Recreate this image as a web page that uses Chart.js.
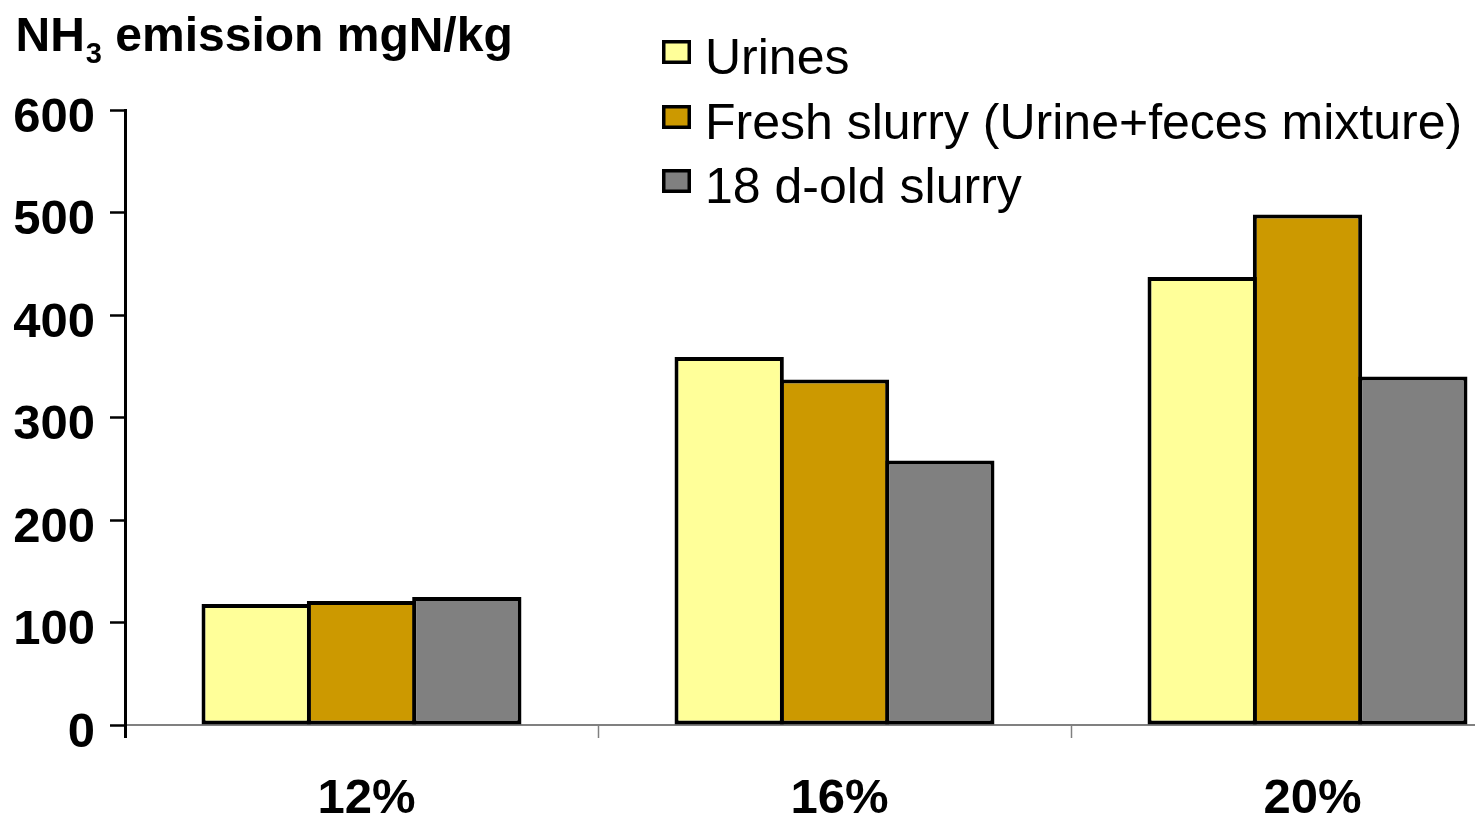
<!DOCTYPE html>
<html>
<head>
<meta charset="utf-8">
<style>
  html, body { margin: 0; padding: 0; background: #ffffff; overflow: hidden; width: 1475px; height: 813px; }
  canvas { display: block; }
</style>
<script src="https://cdn.jsdelivr.net/npm/chart.js@4.4.1/dist/chart.umd.min.js"></script>
</head>
<body>
<canvas id="chart" width="1544" height="813"></canvas>
<script>
// Crude protein levels of the diet (categories)
const categories = ['12%', '16%', '20%'];

// NH3 emission, mgN/kg
const urines = [118, 359, 437];
const freshSlurry = [121, 337, 498];
const oldSlurry = [125, 258, 340];

const seriesNames = ['Urines', 'Fresh slurry (Urine+feces mixture)', '18 d-old slurry'];
const seriesColors = ['#FFFF99', '#CC9900', '#808080'];

// Value axis
const yMin = 0;
const yMax = 600;
const yStep = 100;

const FONT = "'Liberation Sans', Arial, Helvetica, sans-serif";

// Axis title with subscript, drawn on top of the chart
const axisTitlePlugin = {
  id: 'axisTitle',
  afterDraw(chart) {
    const ctx = chart.ctx;
    ctx.save();
    ctx.fillStyle = '#000';
    ctx.textBaseline = 'alphabetic';
    ctx.textAlign = 'left';
    let x = 15.5;
    ctx.font = 'bold 48px ' + FONT;
    ctx.fillText('NH', x, 51);
    x += ctx.measureText('NH').width + 1;
    ctx.font = 'bold 29px ' + FONT;
    ctx.fillText('3', x, 63);
    x += ctx.measureText('3').width;
    ctx.font = 'bold 48px ' + FONT;
    ctx.fillText(' emission mgN/kg', x, 51);
    ctx.restore();
  }
};

// Vertical legend placed over the upper part of the plot
const boxLegendPlugin = {
  id: 'boxLegend',
  afterDraw(chart) {
    const ctx = chart.ctx;
    const baselines = [74, 139, 203];
    ctx.save();
    chart.data.datasets.forEach((ds, i) => {
      const by = baselines[i] - 34;
      ctx.fillStyle = '#000';
      ctx.fillRect(662, by, 29, 24);
      ctx.fillStyle = ds.backgroundColor;
      ctx.fillRect(665.5, by + 3.5, 22, 17);
      ctx.fillStyle = '#000';
      ctx.font = '50px ' + FONT;
      ctx.textBaseline = 'alphabetic';
      ctx.textAlign = 'left';
      ctx.fillText(ds.label, 705, baselines[i]);
    });
    ctx.restore();
  }
};

const seriesValues = [urines, freshSlurry, oldSlurry];

new Chart(document.getElementById('chart'), {
  type: 'bar',
  data: {
    labels: categories,
    datasets: seriesValues.map((vals, i) => ({
      label: seriesNames[i],
      data: vals,
      backgroundColor: seriesColors[i],
      borderColor: '#000000',
      borderWidth: 4,
      borderSkipped: false,
      categoryPercentage: 0.668,
      barPercentage: 1.038
    }))
  },
  options: {
    responsive: false,
    animation: false,
    devicePixelRatio: 1,
    layout: { padding: { top: 110, left: 0, right: 0, bottom: 0 } },
    plugins: {
      legend: { display: false },
      title: { display: false },
      tooltip: { enabled: false }
    },
    scales: {
      x: {
        type: 'category',
        offset: true,
        grid: {
          offset: true,
          drawOnChartArea: false,
          drawTicks: true,
          tickLength: 13,
          tickColor: (c) => (c.index === 0 ? '#000000' : '#808080'),
          tickWidth: (c) => (c.index === 0 ? 3 : 1.5)
        },
        border: { display: true, color: '#808080', width: 2 },
        ticks: {
          color: '#000',
          font: { family: FONT, size: 49, weight: 'bold' },
          padding: 32,
          labelOffset: 5,
          maxRotation: 0,
          autoSkip: false
        },
        afterFit(scale) { scale.height = 88; }
      },
      y: {
        min: yMin,
        max: yMax,
        grid: {
          drawOnChartArea: false,
          drawTicks: true,
          tickLength: 15,
          tickColor: '#000000',
          tickWidth: 2.5
        },
        border: { display: true, color: '#000000', width: 3 },
        ticks: {
          stepSize: yStep,
          color: '#000',
          font: { family: FONT, size: 49, weight: 'bold' },
          padding: 15,
          labelOffset: 8
        },
        afterFit(scale) { scale.width = 125; }
      }
    }
  },
  plugins: [axisTitlePlugin, boxLegendPlugin]
});
</script>
</body>
</html>
